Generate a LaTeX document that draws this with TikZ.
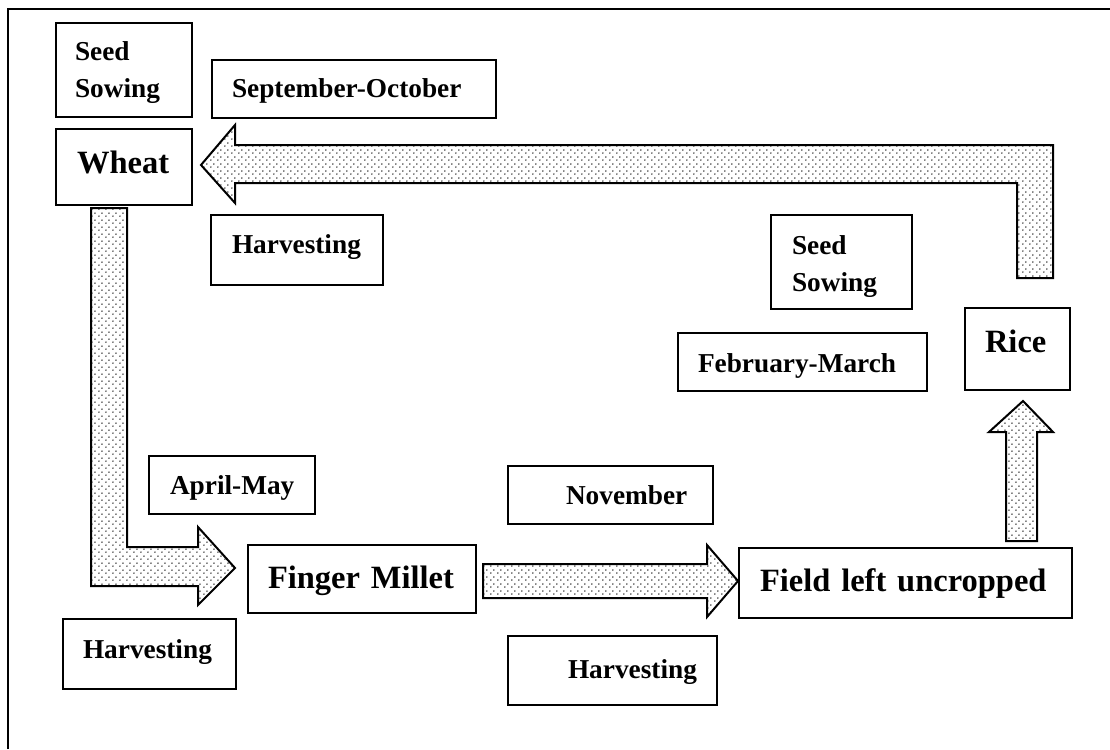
\documentclass[tikz,border=0pt]{standalone}
\usepackage{fontspec}
\setmainfont{Liberation Serif}
\usetikzlibrary{patterns,calc}

% fine staggered dot fill for the block arrows
\pgfdeclarepatternformonly{speckle}{\pgfpointorigin}{\pgfpoint{7pt}{7pt}}{\pgfpoint{7pt}{7pt}}{%
  \pgfpathcircle{\pgfpoint{1pt}{1pt}}{0.85pt}%
  \pgfpathcircle{\pgfpoint{4.5pt}{4.5pt}}{0.85pt}%
  \pgfusepath{fill}}

\newcommand\lblfont{\fontsize{27.3pt}{37pt}\selectfont\bfseries}
\newcommand\cropfont{\fontsize{32.5pt}{38pt}\selectfont\bfseries}

\tikzset{
  % #1 width, #2 height, #3 left margin, #4 baseline below top, #5 text width
  tb/.style n args={5}{draw, line width=2pt, anchor=north west,
    inner ysep=0pt, inner xsep=#3, text width=#5, align=left,
    text height=#4, text depth=#2-#4, minimum width=#1},
  lbl/.style={font=\lblfont},
  crop/.style={font=\cropfont},
  blockarrow/.style={draw, line width=2pt, pattern=speckle, line join=miter},
  frame/.style={line width=2pt}
}

\begin{document}
\begin{tikzpicture}[x=1pt, y=-1pt]
\useasboundingbox (0,0) rectangle (1110,749);

% open frame: top and left edges
\coordinate (fbl) at (8,749);
\coordinate (ftl) at (8,9);
\coordinate (ftr) at (1110,9);
\draw[frame] (fbl) -- (ftl) -- (ftr);

% crops
\node[tb={136pt}{76pt}{21pt}{44pt}{94pt}, crop] (wheat) at (55,128) {Wheat};
\node[tb={228pt}{68pt}{20pt}{43pt}{188pt}, crop] (millet) at (247,544) {Finger Millet};
\node[tb={333pt}{70pt}{21pt}{43pt}{291pt}, crop] (field) at (738,547) {Field left uncropped};
\node[tb={105pt}{82pt}{20pt}{44pt}{65pt}, crop] (rice) at (964,307) {Rice};

% labels
\node[tb={136pt}{94pt}{19pt}{38pt}{98pt}, lbl] (sow1) at (55,22) {Seed\\Sowing};
\node[tb={284pt}{58pt}{20pt}{38pt}{244pt}, lbl] (sepoct) at (211,59) {\mbox{September-October}};
\node[tb={172pt}{70pt}{21pt}{38pt}{130pt}, lbl] (harv1) at (210,214) {Harvesting};
\node[tb={141pt}{94pt}{21pt}{39pt}{99pt}, lbl] (sow2) at (770,214) {Seed\\Sowing};
\node[tb={249pt}{58pt}{20pt}{39pt}{209pt}, lbl] (febmar) at (677,332) {\mbox{February-March}};
\node[tb={166pt}{58pt}{21pt}{38pt}{124pt}, lbl] (aprmay) at (148,455) {\mbox{April-May}};
\node[tb={173pt}{70pt}{20pt}{39pt}{133pt}, lbl] (harv2) at (62,618) {Harvesting};
\node[tb={205pt}{58pt}{58pt}{38pt}{89pt}, lbl] (nov) at (507,465) {\mbox{November}};
\node[tb={209pt}{69pt}{60pt}{42pt}{89pt}, lbl] (harv3) at (507,635) {\mbox{Harvesting}};

% arrow tips and free tails
\coordinate (tipW) at ($(wheat.east)+(8,-2)$);
\coordinate (tipM) at ($(millet.west)+(-12,-11)$);
\coordinate (tipF) at ($(field.west)+(0,-2)$);
\coordinate (tipR) at ($(rice.south)+(5.5,10)$);
\coordinate (tailRW) at (1017,278);
\coordinate (tailWM) at (91,208);
\coordinate (tailMF) at (483,564);
\coordinate (tailFR) at (1006,541);

% Rice -> Wheat (bent)
\draw[blockarrow] (tipW) -- (235,125) -- (235,145) -- (1053,145) -- (1053,278)
  -- (tailRW) -- (1017,183) -- (235,183) -- (235,203) -- cycle;

% Wheat -> Finger Millet (bent)
\draw[blockarrow] (tipM) -- (198,527) -- (198,547) -- (127,547) -- (127,208)
  -- (tailWM) -- (91,586) -- (198,586) -- (198,605) -- cycle;

% Finger Millet -> Field left uncropped
\draw[blockarrow] (tipF) -- (707,545) -- (707,564) -- (tailMF) -- (483,598)
  -- (707,598) -- (707,617) -- cycle;

% Field left uncropped -> Rice
\draw[blockarrow] (tipR) -- (1053,432) -- (1037,432) -- (1037,541) -- (tailFR)
  -- (1006,432) -- (989,432) -- cycle;
\end{tikzpicture}
\end{document}
